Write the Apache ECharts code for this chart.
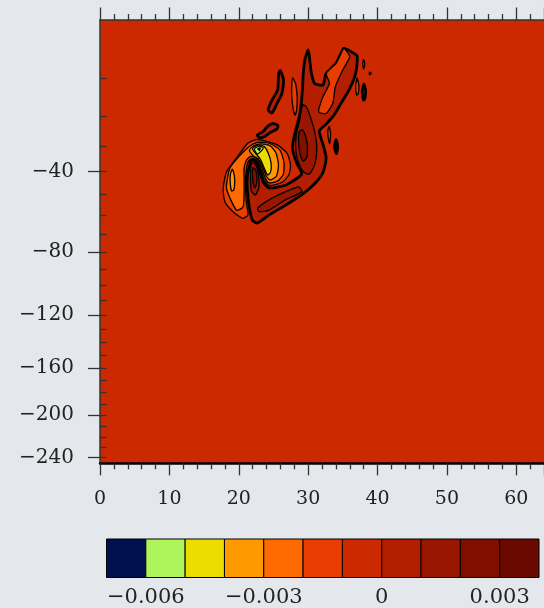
<!DOCTYPE html>
<html><head><meta charset="utf-8">
<script src="https://cdn.jsdelivr.net/npm/echarts@6/dist/echarts.min.js"></script>
<style>html,body{margin:0;padding:0;background:#e4e7eb;}#c{width:544px;height:608px;}</style>
</head><body><div id="c"></div>
<script>
// ---- levels / colours / ticks ----
const contourLevels = [-0.006,-0.005,-0.004,-0.003,-0.002,-0.001,0,0.001,0.002,0.003];
const levelColors = ['#00104f','#adf55a','#eddc00','#ff9900','#ff6a00','#e83c00','#cc2900','#b31e00','#991600','#800f00','#6a0900'];
const colorbarLabels = [-0.006,-0.003,0,0.003];
const xTickLabels = [0,10,20,30,40,50,60];
const yTickLabels = [-40,-80,-120,-160,-200,-240];
const yMinorTicks = [-10,-20,-30,-40,-50,-60,-70,-80,-90,-100,-110,-120,-130,-140,-150,-160,-170,-180,-190,-200,-210,-220,-230,-240];
const xRange = [0,64];
const yRange = [-245.6,0];

// ---- contour regions, [x, y] in data units ----
const negLobeOuter = [[17.76,-47.3],[18.24,-40.1],[19.66,-34.7],[21.30,-29.1],[22.49,-27.8],[23.91,-28.3],[25.56,-29.7],[26.97,-32.8],[27.46,-37.4],[27.21,-41.5],[26.22,-44.7],[24.38,-46.0],[23.67,-43.6],[23.10,-38.6],[22.46,-35.2],[21.83,-34.8],[21.33,-36.2],[21.05,-40.2],[20.98,-47.1],[21.12,-54.5],[21.33,-59.9],[20.59,-61.6],[19.18,-58.3],[18.00,-53.5]];
const negLobeL5 = [[19.66,-57.5],[18.24,-47.3],[18.71,-38.7],[19.84,-34.6],[21.26,-30.8],[22.68,-28.8],[24.38,-29.1],[25.94,-31.6],[26.51,-36.2],[26.43,-41.1],[25.65,-44.0],[24.38,-44.9],[23.81,-42.8],[23.25,-38.2],[22.54,-34.6],[21.69,-34.0],[21.12,-35.4],[20.77,-38.6],[20.77,-42.8],[20.77,-49.4],[20.62,-56.0]];
const negLeftL4 = [[19.06,-39.0],[19.35,-41.5],[19.42,-44.9],[19.28,-48.0],[18.99,-48.5],[18.78,-45.4],[18.78,-41.5]];
const negCoreL4 = [[21.54,-31.6],[22.25,-29.9],[23.25,-29.3],[24.52,-30.0],[25.37,-32.7],[25.73,-37.4],[25.44,-41.9],[24.52,-43.6],[23.96,-41.9],[23.46,-38.2],[22.82,-35.0],[22.11,-33.8]];
const negCoreL3 = [[21.97,-31.0],[22.82,-29.7],[23.67,-30.3],[24.24,-32.7],[24.66,-36.6],[24.59,-40.2],[24.17,-41.5],[23.67,-38.6],[23.10,-35.0],[22.39,-32.7]];
const negCoreL2 = [[22.25,-31.2],[22.96,-30.1],[23.53,-30.8],[23.25,-31.9],[22.68,-33.1]];
const negCoreL1 = [[22.75,-31.1],[23.10,-30.8],[22.96,-31.7]];
const posMain = [[30.01,-4.3],[30.23,-6.1],[30.47,-8.9],[30.94,-11.2],[32.13,-11.6],[32.60,-8.9],[34.02,-6.8],[34.97,-4.3],[35.19,-4.0],[36.61,-4.9],[37.09,-5.5],[36.85,-8.9],[35.90,-12.8],[34.73,-16.4],[33.73,-19.8],[32.60,-22.6],[31.61,-24.9],[32.17,-29.7],[32.60,-34.6],[32.17,-40.2],[31.04,-44.9],[29.06,-50.3],[26.79,-55.0],[24.38,-59.9],[22.68,-64.0],[21.97,-62.5],[21.54,-56.5],[21.26,-48.9],[21.26,-41.5],[21.83,-35.4],[22.39,-35.8],[22.96,-39.4],[23.53,-44.5],[24.38,-47.1],[26.79,-45.8],[29.06,-41.1],[28.35,-36.6],[27.78,-31.6],[27.88,-27.9],[28.35,-23.4],[28.82,-19.3],[29.06,-15.5],[29.20,-12.0],[29.30,-8.9],[29.52,-6.1]];
const posUpperL8 = [[28.77,-21.3],[29.20,-16.8],[29.77,-17.4],[30.47,-21.3],[31.04,-26.2],[31.25,-31.6],[30.97,-37.0],[30.19,-41.1],[29.34,-40.2],[28.63,-36.6],[28.21,-31.6],[28.28,-26.2]];
const posUpperL9 = [[28.70,-25.2],[29.20,-24.5],[29.70,-27.2],[29.91,-30.8],[29.77,-34.6],[29.27,-35.8],[28.84,-33.1],[28.63,-28.7]];
const posArmL8 = [[22.72,-56.6],[24.38,-52.6],[26.75,-48.8],[28.63,-46.6],[29.10,-48.8],[26.75,-52.6],[24.38,-57.5],[22.96,-58.3]];
const posCurlL8 = [[21.83,-36.6],[22.39,-37.0],[22.82,-41.1],[22.89,-47.1],[22.39,-50.3],[21.83,-48.5],[21.69,-41.9]];
const posCurlL9 = [[22.04,-38.6],[22.46,-39.4],[22.61,-44.5],[22.32,-47.1],[22.04,-44.5]];
const negStrip = [[35.19,-4.0],[36.00,-5.5],[34.97,-8.2],[33.92,-12.0],[33.55,-16.4],[32.60,-19.3],[31.51,-18.8],[32.13,-14.6],[33.07,-11.2],[32.60,-8.9],[34.02,-6.8],[34.97,-4.3]];
const negEllipseA = [[27.78,-9.9],[28.21,-11.4],[28.42,-14.6],[28.35,-18.3],[28.13,-19.8],[27.85,-18.0],[27.64,-14.4],[27.64,-11.4]];
const negEllipseB = [[37.05,-9.9],[37.32,-11.8],[37.21,-13.8],[36.99,-14.1],[36.85,-11.8]];
const negEllipseC = [[37.99,-6.0],[38.17,-6.9],[37.99,-8.0],[37.87,-6.9]];
const negDot = [[38.85,-8.6],[39.10,-8.9],[38.85,-9.2]];
const negEllipseD = [[33.03,-23.4],[33.24,-25.9],[33.10,-29.2],[32.88,-26.9],[32.85,-24.5]];
const posBlobA = [[38.03,-11.4],[38.27,-12.8],[38.20,-14.9],[37.99,-15.5],[37.80,-13.3]];
const posBlobB = [[34.02,-27.8],[34.26,-30.1],[34.09,-32.9],[33.80,-30.5]];
const posSliverA = [[25.98,-8.3],[26.46,-10.4],[26.22,-13.7],[25.51,-16.4],[24.80,-19.1],[24.24,-18.3],[24.80,-15.5],[25.61,-12.8],[25.75,-8.9]];
const posSliverB = [[24.10,-23.4],[24.95,-22.4],[25.65,-23.1],[25.51,-24.2],[24.66,-25.2],[23.81,-26.6],[22.96,-27.2],[22.68,-26.2],[23.53,-25.0]];

// region table: colour box index (0..10), zero-line flag
const regions = [
  {pts: negLobeOuter, box: 5, zero: false},
  {pts: negLobeL5, box: 4, zero: false},
  {pts: negLeftL4, box: 3, zero: false},
  {pts: negCoreL4, box: 3, zero: false},
  {pts: negCoreL3, box: 2, zero: false},
  {pts: negCoreL2, box: 1, zero: false},
  {pts: negCoreL1, box: 0, zero: false},
  {pts: posMain, box: 7, zero: true},
  {pts: posUpperL8, box: 8, zero: false},
  {pts: posUpperL9, box: 9, zero: false},
  {pts: posArmL8, box: 8, zero: false},
  {pts: posCurlL8, box: 8, zero: false},
  {pts: posCurlL9, box: 9, zero: false},
  {pts: negStrip, box: 5, zero: false},
  {pts: negEllipseA, box: 5, zero: false},
  {pts: negEllipseB, box: 5, zero: false},
  {pts: negEllipseC, box: 5, zero: false},
  {pts: negDot, box: 5, zero: false},
  {pts: negEllipseD, box: 5, zero: false},
  {pts: posBlobA, box: 7, zero: true},
  {pts: posBlobB, box: 7, zero: true},
  {pts: posSliverA, box: 7, zero: true},
  {pts: posSliverB, box: 7, zero: true}
];

// y-axis is drawn on a square-root scale of depth
const ty = y => Math.sqrt(3.25 - y);
const fmtY = v => { const d = Math.round(3.25 - v * v); return d < 0 ? '\u2212' + (-d) : String(d); };
const fmtCb = v => v === 0 ? '0' : (v < 0 ? '\u2212' : '') + Math.abs(v).toFixed(3);
const step = contourLevels[1] - contourLevels[0];
const cbEdges = [contourLevels[0] - step, ...contourLevels, contourLevels[contourLevels.length - 1] + step];

const FONT = 'DejaVu Serif';
const tickStyle = {color: '#333', width: 1.3};

const chart = echarts.init(document.getElementById('c'), null, {renderer: 'canvas'});
chart.setOption({
  animation: false,
  backgroundColor: '#e4e7eb',
  grid: [
    {left: 100, top: 20, width: 451.5, height: 443.3, show: true, backgroundColor: levelColors[6], borderWidth: 0},
    {left: 106.5, top: 539, width: 432.5, height: 39}
  ],
  xAxis: [
    {gridIndex: 0, type: 'value', position: 'bottom', min: xRange[0], max: xRange[1], interval: 10,
     axisLine: {show: true, onZero: false, lineStyle: {color: '#000', width: 2.5}},
     axisTick: {show: true, inside: false, length: 12, lineStyle: tickStyle},
     minorTick: {show: true, splitNumber: 5, length: 6, lineStyle: tickStyle},
     splitLine: {show: false},
     axisLabel: {customValues: xTickLabels, fontFamily: FONT, fontSize: 19, color: '#222', margin: 36, verticalAlign: 'middle'}},
    {gridIndex: 0, type: 'value', position: 'top', min: xRange[0], max: xRange[1], interval: 10,
     axisLine: {show: true, onZero: false, lineStyle: {color: '#333', width: 1.5}},
     axisTick: {show: true, inside: false, length: 12.5, lineStyle: tickStyle},
     minorTick: {show: true, splitNumber: 5, length: 6, lineStyle: tickStyle},
     splitLine: {show: false}, axisLabel: {show: false}},
    {gridIndex: 1, type: 'value', min: cbEdges[0], max: cbEdges[cbEdges.length - 1],
     axisLine: {show: false}, axisTick: {show: false}, splitLine: {show: false},
     axisLabel: {customValues: colorbarLabels, formatter: fmtCb, fontFamily: FONT, fontSize: 21, color: '#222', margin: 20, verticalAlign: 'middle'}}
  ],
  yAxis: [
    {gridIndex: 0, type: 'value', inverse: true, min: ty(yRange[1]), max: ty(yRange[0]),
     axisLine: {show: true, onZero: false, lineStyle: {color: '#333', width: 1.5}},
     axisTick: {show: true, inside: false, length: 12, customValues: yTickLabels.map(ty), lineStyle: tickStyle},
     splitLine: {show: false},
     axisLabel: {customValues: yTickLabels.map(ty), formatter: fmtY, fontFamily: FONT, fontSize: 20, color: '#222', margin: 26}},
    {gridIndex: 0, type: 'value', inverse: true, min: ty(yRange[1]), max: ty(yRange[0]),
     axisLine: {show: false},
     axisTick: {show: true, inside: false, length: 6.5, customValues: yMinorTicks.map(ty), lineStyle: tickStyle},
     splitLine: {show: false}, axisLabel: {show: false}},
    {gridIndex: 1, type: 'value', min: 0, max: 1, show: false}
  ],
  series: [
    {type: 'custom', xAxisIndex: 0, yAxisIndex: 0, clip: true, silent: true,
     data: regions.map((r, i) => [r.pts[0][0], ty(r.pts[0][1]), i]),
     renderItem: (params, api) => {
       const r = regions[params.dataIndex];
       return {type: 'polygon',
         shape: {points: r.pts.map(p => api.coord([p[0], ty(p[1])])), smooth: 0.2},
         style: {fill: levelColors[r.box], stroke: '#000', lineWidth: r.zero ? 2.8 : 1.3, lineJoin: 'round'}};
     }},
    {type: 'custom', xAxisIndex: 2, yAxisIndex: 2, silent: true,
     data: levelColors.map((c, i) => [cbEdges[i], cbEdges[i + 1]]),
     renderItem: (params, api) => {
       const p0 = api.coord([api.value(0), 1]);
       const p1 = api.coord([api.value(1), 0]);
       return {type: 'rect', shape: {x: p0[0], y: p0[1], width: p1[0] - p0[0], height: p1[1] - p0[1]},
         style: {fill: levelColors[params.dataIndex], stroke: '#000', lineWidth: 1}};
     }}
  ]
});
</script></body></html>
